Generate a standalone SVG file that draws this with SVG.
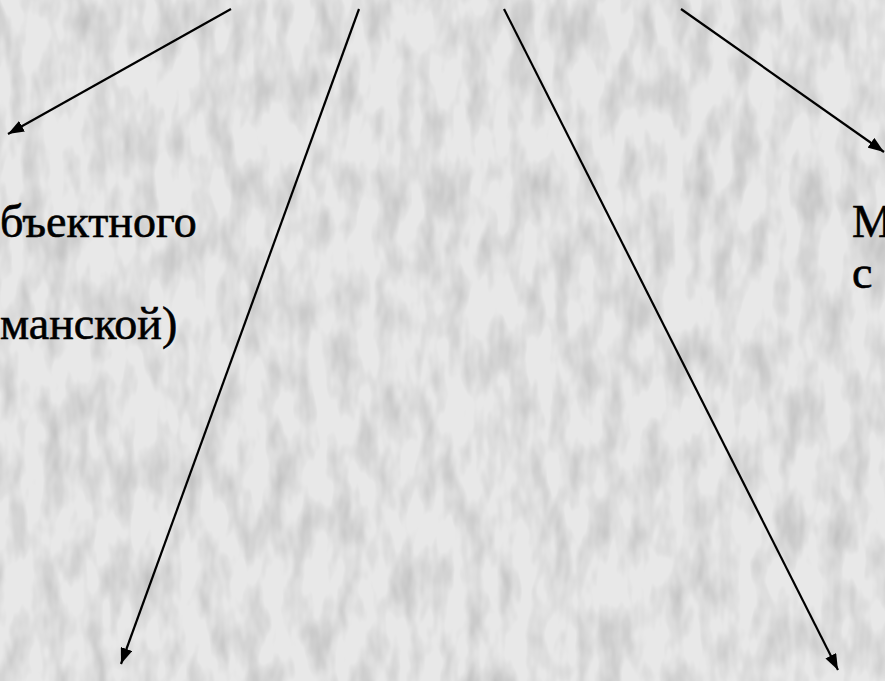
<svg xmlns="http://www.w3.org/2000/svg" width="885" height="681" viewBox="0 0 885 681">
<defs>
<style>
text{font-family:'Liberation Serif','Times New Roman','DejaVu Serif',serif;font-size:46px;fill:#000;stroke:#000;stroke-width:0.6}
.conn{stroke:#000;stroke-width:2.2;fill:none}
</style>
<marker id="ah" viewBox="0 0 16 12" refX="16" refY="6" markerWidth="16" markerHeight="12" markerUnits="userSpaceOnUse" orient="auto">
<path d="M0,0 L16,6 L0,12 z" fill="#000"/>
</marker>
<filter id="tex" x="0" y="0" width="100%" height="100%">
<feTurbulence type="fractalNoise" baseFrequency="0.045 0.018" numOctaves="3" seed="7" result="n"/>
<feColorMatrix type="matrix" values="0 0 0 0 0  0 0 0 0 0  0 0 0 0 0  0 0 0 -1 0.6" in="n"/>
</filter>
</defs>
<rect width="885" height="681" fill="#e8e8e8"/>
<rect width="885" height="681" filter="url(#tex)" opacity="0.32"/>
<g id="connectors">
<line class="conn" x1="231" y1="9" x2="8" y2="134" marker-end="url(#ah)"/>
<line class="conn" x1="359" y1="9" x2="121" y2="664" marker-end="url(#ah)"/>
<line class="conn" x1="504" y1="9" x2="838" y2="670" marker-end="url(#ah)"/>
<line class="conn" x1="681" y1="9" x2="884" y2="152" marker-end="url(#ah)"/>
</g>
<g id="node-left">
<text x="0" y="237">бъектного</text>
<text x="0" y="339">манской)</text>
</g>
<g id="node-right">
<text x="852" y="237">М</text>
<text x="852" y="288">с</text>
</g>
</svg>
